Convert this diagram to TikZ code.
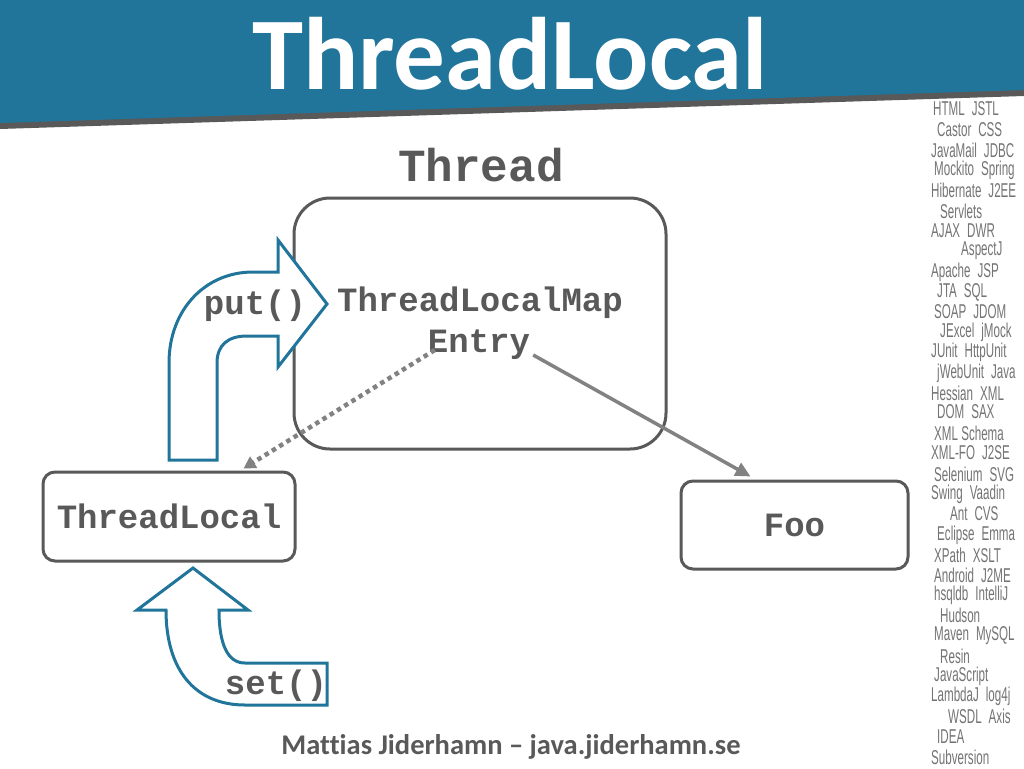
\documentclass[tikz,border=0pt]{standalone}
\usepackage{fontspec}
\setmainfont{Carlito}
\newfontfamily\footfont{Carlito}[Ligatures={TeX,NoCommon}]
\newfontfamily\codefont{Liberation Mono}
\newfontfamily\tagfont{Liberation Sans}[FakeStretch=0.58]
\usetikzlibrary{arrows.meta,calc}
\definecolor{wpblue}{HTML}{21759B}
\definecolor{txtgray}{HTML}{595959}
\definecolor{linegray}{HTML}{828282}
\definecolor{taggray}{HTML}{747474}
\newcommand\tsp{\hspace{7pt}}
\tikzset{
  box/.style={draw=txtgray, line width=3pt, fill=white, inner sep=0pt},
  code/.style={font=\codefont\bfseries\fontsize{34}{34}\selectfont, text=txtgray, inner sep=0pt},
  tagword/.style={font=\tagfont\fontsize{20}{20}\selectfont, text=taggray, anchor=west, inner sep=0pt},
  blockarrow/.style={draw=wpblue, fill=white, line width=3pt, line join=miter},
  dotarrow/.style={draw=linegray, line width=4.5pt, dash pattern=on 4.5pt off 4pt, -{Triangle[length=12pt,width=13pt]}},
  solidarrow/.style={draw=linegray, line width=3.5pt, -{Triangle[length=15pt,width=14pt]}}
}
\begin{document}
\begin{tikzpicture}[x=1pt,y=-1pt]
\useasboundingbox (0,0) rectangle (1024,768);
\fill[white] (0,0) rectangle (1024,768);
% header band
\fill[txtgray] (0,0) -- (1024,0) -- (1024,96) -- (0,129) -- cycle;
\fill[wpblue] (0,0) -- (1024,0) -- (1024,90) -- (0,123) -- cycle;
\node[font=\fontsize{103}{103}\selectfont\bfseries, text=white, anchor=base, inner sep=0pt] (title) at (510,89) {ThreadLocal};
% technology list
\foreach \x/\y/\t [count=\i] in {
 933/109/HTML\tsp JSTL, 937/130/Castor\tsp CSS, 931/150/JavaMail\tsp JDBC,
 934/170/Mockito\tsp Spring, 931/190/Hibernate\tsp J2EE, 940/211/Servlets,
 931/231/AJAX\tsp DWR, 961/251/AspectJ, 931/272/Apache\tsp JSP,
 937/292/JTA\tsp SQL, 934/312/SOAP\tsp JDOM, 940/332/JExcel\tsp jMock,
 931/352/JUnit\tsp HttpUnit, 937/373/jWebUnit\tsp Java, 931/393/Hessian\tsp XML,
 937/412/DOM\tsp SAX, 934/433/XML Schema, 931/453/XML-FO\tsp J2SE,
 934/474/Selenium\tsp SVG, 931/494/Swing\tsp Vaadin, 950/514/Ant\tsp CVS,
 937/535/Eclipse\tsp Emma, 934/555/XPath\tsp XSLT, 934/575/Android\tsp J2ME,
 934/595/hsqldb\tsp IntelliJ, 940/615/Hudson, 934/636/Maven\tsp MySQL,
 940/656/Resin, 934/676/JavaScript, 931/696/LambdaJ\tsp log4j,
 948/716/WSDL\tsp Axis, 937/737/IDEA, 931/757/Subversion}
 \node[tagword] (tag\i) at (\x,\y) {\t};
% boxes
\node[box, minimum width=372pt, minimum height=251pt, rounded corners=36pt] (threadbox) at (480,323.5) {};
\node[code, font=\codefont\bfseries\fontsize{46}{46}\selectfont] (threadlbl) at (481,165) {Thread};
\node[code] (map) at (480,303) {ThreadLocalMap};
\node[code] (entry) at (479,345) {Entry};
\node[box, code, draw=txtgray, minimum width=252pt, minimum height=89pt, rounded corners=12pt] (tl) at (169,516.5) {ThreadLocal};
\node[box, code, draw=txtgray, minimum width=227pt, minimum height=88pt, rounded corners=12pt] (foo) at (794.5,525) {Foo};
% block arrows
\draw[blockarrow] (169,460) -- (169,363) .. controls (169,310) and (205,272) .. (253,272)
  -- (278,272) -- (278,240) -- (327,304) -- (278,367) -- (278,336) -- (247,336)
  .. controls (228,336) and (217,345) .. (217,363) -- (217,460) -- cycle;
\node[code] (put) at (255,306) {put()};
\draw[blockarrow] (193,568) -- (248,610) -- (219,610) .. controls (219,645) and (228,663) .. (245,663)
  -- (327,663) -- (327,705) -- (245,705) .. controls (195,705) and (166,670) .. (166,610)
  -- (137,610) -- cycle;
\node[code] (set) at (276,686) {set()};
% connectors
\draw[dotarrow] ($(entry.west)+(7,5)$) -- ($(tl.north east)+(-53,-2)$);
\draw[solidarrow] ($(entry.east)+(3,10)$) -- ($(foo.north west)+(71,-3)$);
% footer
\node[font=\footfont\fontsize{28.5}{28.5}\selectfont\bfseries, text=txtgray, inner sep=0pt, anchor=base] (footer) at (511,754) {Mattias Jiderhamn \textendash{} java.jiderhamn.se};
\end{tikzpicture}
\end{document}
